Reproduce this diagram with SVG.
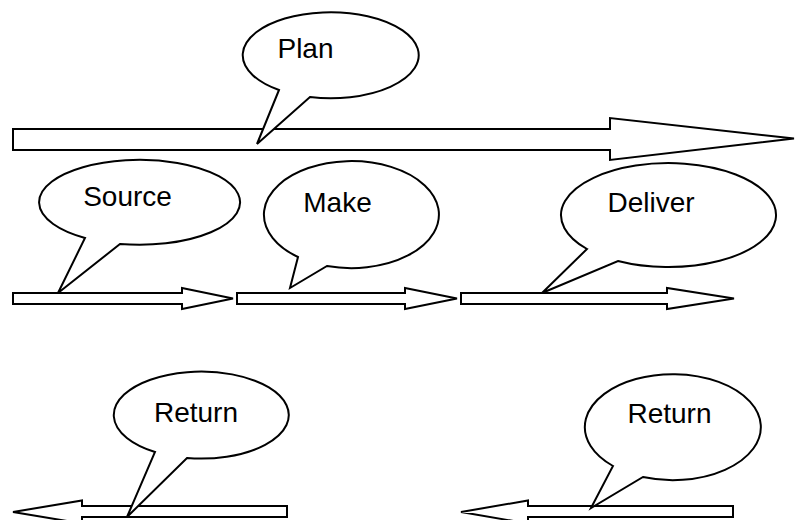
<svg xmlns="http://www.w3.org/2000/svg" width="796" height="520" viewBox="0 0 796 520">
  <style>
    .arrow { fill: #ffffff; stroke: #000000; stroke-width: 2; stroke-linejoin: miter; }
    .balloon { fill: #ffffff; stroke: #000000; stroke-width: 2; stroke-linejoin: miter; }
    .label { font-family: "Liberation Sans", Arial, sans-serif; font-size: 28px; fill: #000000; text-anchor: middle; }
  </style>
  <rect x="0" y="0" width="796" height="520" fill="#ffffff"/>

  <!-- block arrows -->
  <g id="connectors">
    <polygon id="arrow-plan" class="arrow" points="13,129 610,129 610,118 794,138.5 610,160 610,150 13,150"/>
    <polygon id="arrow-source" class="arrow" points="13,293 182,293 182,288 233,298.5 182,309 182,304 13,304"/>
    <polygon id="arrow-make" class="arrow" points="237,293 405,293 405,288 457,298.5 405,309 405,304 237,304"/>
    <polygon id="arrow-deliver" class="arrow" points="461,293 667,293 667,288 734,298.5 667,309 667,304 461,304"/>
    <polygon id="arrow-return-1" class="arrow" points="287,506 82,506 82,500.5 13,512 82,523.5 82,517 287,517"/>
    <polygon id="arrow-return-2" class="arrow" points="733,506 528,506 528,500.5 461,512 528,523.5 528,517 733,517"/>
  </g>

  <!-- speech balloons -->
  <g id="plan">
    <path class="balloon" d="M 310 97 A 88 43 0 1 0 279 90 L 257 144 Z"/>
    <text class="label" x="305.5" y="58">Plan</text>
  </g>
  <g id="source">
    <path class="balloon" d="M 120 244 A 100.5 42.5 0 1 0 85 238 L 58 293 Z"/>
    <text class="label" x="127.5" y="206">Source</text>
  </g>
  <g id="make">
    <path class="balloon" d="M 327 266 A 87.5 53.5 0 1 0 298 257 L 290 288 Z"/>
    <text class="label" x="337.5" y="212">Make</text>
  </g>
  <g id="deliver">
    <path class="balloon" d="M 618 261 A 107.5 52 0 1 0 587 249 L 542 293 Z"/>
    <text class="label" x="651" y="212">Deliver</text>
  </g>
  <g id="return-1">
    <path class="balloon" d="M 187 458 A 87.5 43.5 0 1 0 155 452 L 127 517 Z"/>
    <text class="label" x="196" y="422">Return</text>
  </g>
  <g id="return-2">
    <path class="balloon" d="M 643 477 A 88 53 0 1 0 613 466 L 591 508 Z"/>
    <text class="label" x="669.5" y="423">Return</text>
  </g>
</svg>
